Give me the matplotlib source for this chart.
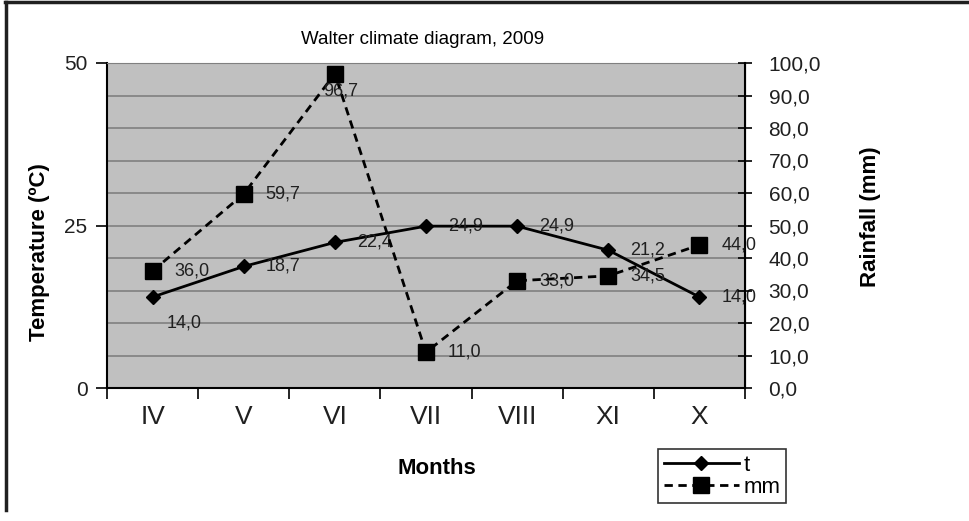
import matplotlib
matplotlib.use("Agg")
import matplotlib.pyplot as plt
from matplotlib.lines import Line2D

# data
months = ["IV", "V", "VI", "VII", "VIII", "XI", "X"]
temp = [14.0, 18.7, 22.4, 24.9, 24.9, 21.2, 14.0]
rain = [36.0, 59.7, 96.7, 11.0, 33.0, 34.5, 44.0]

plt.rcParams['font.family'] = ['Liberation Sans', 'DejaVu Sans']

fig = plt.figure(figsize=(9.7, 5.21), dpi=100)
ax = fig.add_axes([107/970, 1-388/521, 638/970, 325/521])
ax2 = ax.twinx()

x = list(range(len(months)))

ax.set_facecolor("#c0c0c0")
ax.set_xlim(-0.5, len(months) - 0.5)
ax.set_ylim(0, 50)
ax2.set_ylim(0, 100)

# horizontal gridlines every 5 degrees (= 10 mm)
for g in range(5, 51, 5):
    ax.axhline(g, color="#808080", lw=1.2, zorder=0.5)

# temperature line
ax.plot(x, temp, color="black", lw=2, marker="D", ms=7.5, zorder=3)
# rainfall line
ax2.plot(x, rain, color="black", lw=2, ls=(0, (3, 2)), marker="s", ms=11, zorder=3)

# data labels
for i, v in enumerate(temp):
    lab = f"{v:.1f}".replace(".", ",")
    if i == 0:
        ax.annotate(lab, (i, v), xytext=(14, -26), textcoords="offset pixels",
                    ha="left", va="center", fontsize=13, color="#202020", zorder=4)
    else:
        ax.annotate(lab, (i, v), xytext=(22, 0), textcoords="offset pixels",
                    ha="left", va="center", fontsize=13, color="#202020", zorder=4)
for i, v in enumerate(rain):
    lab = f"{v:.1f}".replace(".", ",")
    if i == 2:
        ax2.annotate(lab, (i, v), xytext=(6, -17), textcoords="offset pixels",
                     ha="center", va="center", fontsize=13, color="#202020", zorder=4)
    else:
        ax2.annotate(lab, (i, v), xytext=(22, 0), textcoords="offset pixels",
                     ha="left", va="center", fontsize=13, color="#202020", zorder=4)

# axes ticks
ax.set_yticks([0, 25, 50])
ax.set_yticklabels(["0", "25", "50"], fontsize=15, color="#202020")
ax.tick_params(axis="y", direction="out", length=8, width=1.2, pad=6)
ax2.set_yticks(range(0, 101, 10))
ax2.set_yticklabels([f"{t:.1f}".replace(".", ",") for t in range(0, 101, 10)],
                    fontsize=15, color="#202020")
ax2.tick_params(axis="y", direction="inout", length=10, width=1.2, pad=12)

ax.set_xticks([i - 0.5 for i in range(len(months) + 1)])
ax.set_xticklabels([])
ax.tick_params(axis="x", direction="out", length=8, width=1.2)
ax.set_xticks(x, minor=True)
ax.set_xticklabels(months, minor=True, fontsize=19, color="#202020")
ax.tick_params(axis="x", which="minor", length=0, pad=12)

for s in ["left", "bottom"]:
    ax.spines[s].set_linewidth(1.5)
ax.spines["top"].set_color("#808080")
ax2.spines["top"].set_visible(False)
ax2.spines["left"].set_visible(False)
ax2.spines["bottom"].set_visible(False)
ax2.spines["right"].set_linewidth(1.5)

# texts
fig.text(423/970, 1-40/521, "Walter climate diagram, 2009", ha="center", va="center", fontsize=13.5)
fig.text(40/970, 1-252/521, "Temperature (ºC)", rotation=90, ha="center", va="center",
         fontsize=16, fontweight="bold")
fig.text(871/970, 1-217/521, "Rainfall (mm)", rotation=90, ha="center", va="center",
         fontsize=16, fontweight="bold")
fig.text(437/970, 1-468/521, "Months", ha="center", va="center", fontsize=16, fontweight="bold")

# legend
handles = [Line2D([], [], color="black", lw=2, marker="D", ms=7.5),
           Line2D([], [], color="black", lw=2, ls=(0, (3, 2)), marker="s", ms=11)]
leg = fig.legend(handles, ["t", "mm"], loc="upper left",
                 bbox_to_anchor=(658/970, 1-449/521), fontsize=16, frameon=True,
                 fancybox=False, edgecolor="black", handlelength=3.4,
                 labelspacing=0.05, borderpad=0.25, handletextpad=0.2,
                 borderaxespad=0)
leg.get_frame().set_linewidth(1.2)

# outer frame of the chart (top and left edges)
fig.add_artist(Line2D([5/970, 1], [1-2/521, 1-2/521], color="#202020", lw=2.5))
fig.add_artist(Line2D([6/970, 6/970], [1-2/521, 1-510/521], color="#202020", lw=2.5))

fig.savefig("out.png", dpi=100)
